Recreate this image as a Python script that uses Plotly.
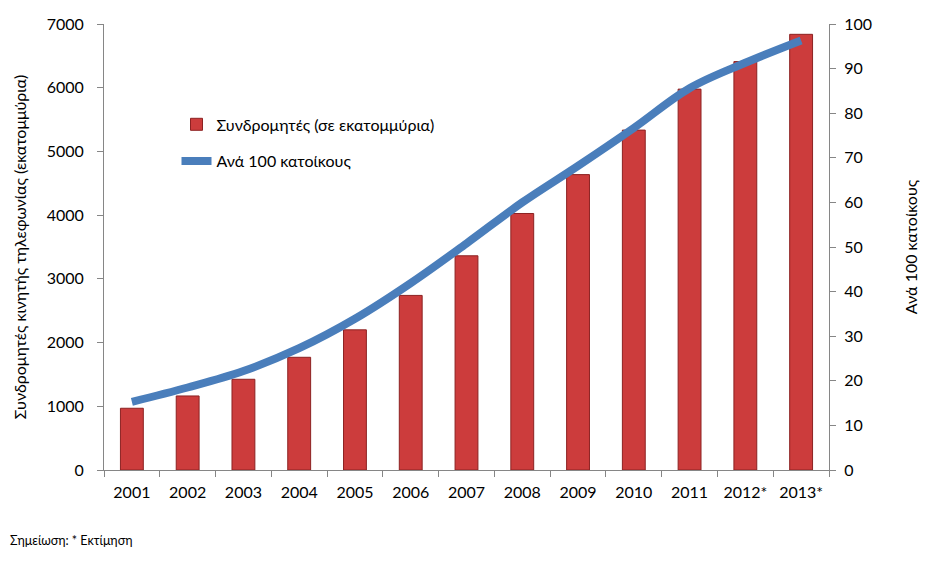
import plotly.graph_objects as go

years = ["2001", "2002", "2003", "2004", "2005", "2006", "2007",
         "2008", "2009", "2010", "2011", "2012*", "2013*"]
subscribers = [969, 1162, 1424, 1769, 2200, 2740, 3362, 4026, 4636, 5335, 5978, 6410, 6838]
per_100 = [15.3, 18.5, 22.2, 27.3, 33.9, 41.9, 50.8, 60.0, 68.2, 76.7, 85.6, 91.3, 96.3]

font_family = "Lato, Open Sans, sans-serif"

fig = go.Figure()
fig.add_trace(go.Bar(
    x=years, y=subscribers, name="Συνδρομητές (σε εκατομμύρια)",
    marker=dict(color="#cc3c3c", line=dict(color="#8c2222", width=1)),
    legendgroup="a",
))
fig.add_trace(go.Scatter(
    x=years, y=per_100, name="Ανά 100 κατοίκους", yaxis="y2",
    mode="lines", line=dict(color="#4a7ebb", width=8, shape="spline"),
    legendgroup="b",
))

fig.update_layout(
    width=933, height=561,
    margin=dict(l=96, r=112, t=16, b=99, autoexpand=False),
    paper_bgcolor="white", plot_bgcolor="white",
    font=dict(family=font_family, size=16, color="#000"),
    bargap=0.59,
    showlegend=True,
    legend=dict(x=0.1, y=0.813, xanchor="left", yanchor="top",
                bgcolor="rgba(0,0,0,0)", font=dict(size=16),
                traceorder="grouped", tracegroupgap=13),
    xaxis=dict(showline=True, linecolor="#868686", linewidth=1, automargin=False,
               ticks="outside", tickson="boundaries", ticklen=6, tickcolor="#868686",
               showgrid=False, tickfont=dict(size=16), ticklabelstandoff=8),
    yaxis=dict(range=[0, 7000], dtick=1000, showline=True, linecolor="#868686",
               ticks="outside", ticklen=6, tickcolor="#868686", showgrid=False,
               zeroline=False, tickfont=dict(size=16), ticklabelstandoff=10,
               automargin=False,
               title=dict(text="Συνδρομητές κινητής τηλεφωνίας (εκατομμύρια)",
                          font=dict(size=16), standoff=16)),
    yaxis2=dict(range=[0, 100], dtick=10, overlaying="y", side="right",
                showline=True, linecolor="#868686", ticks="outside", ticklen=6,
                tickcolor="#868686", showgrid=False, zeroline=False,
                tickfont=dict(size=16), ticklabelstandoff=5, automargin=False,
                title=dict(text="Ανά 100 κατοίκους", font=dict(size=16), standoff=34)),
    annotations=[dict(text="Σημείωση: * Εκτίμηση", xref="paper", yref="paper",
                      x=-0.1324, y=-0.157, xanchor="left", yanchor="middle",
                      showarrow=False, font=dict(size=12.5))],
)

fig.write_html("out.html")
